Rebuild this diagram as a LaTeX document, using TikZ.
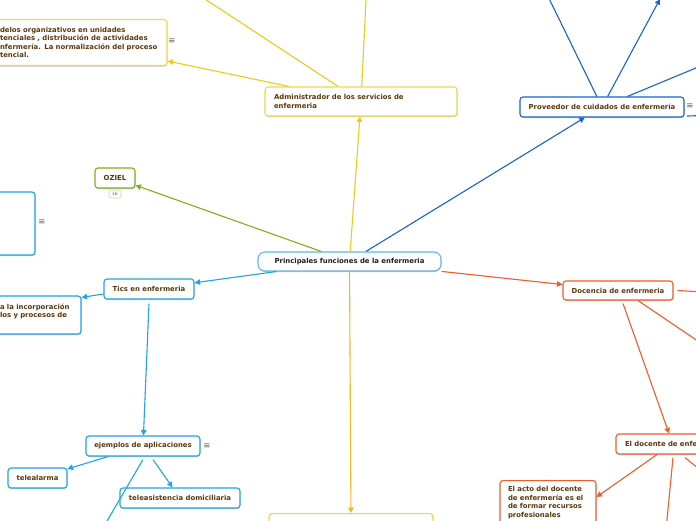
\documentclass[tikz,border=0pt]{standalone}
\usepackage{fontspec}
\setmainfont{DejaVu Sans}
\usetikzlibrary{arrows.meta,shadows}
\definecolor{cyel}{HTML}{EBCB1C}
\definecolor{cyelbox}{HTML}{F2D844}
\definecolor{camber}{HTML}{F6B626}
\definecolor{camberbox}{HTML}{FFCB4C}
\definecolor{cblue}{HTML}{1A62D0}
\definecolor{cltblue}{HTML}{1FA4E6}
\definecolor{ccentral}{HTML}{62B6EA}
\definecolor{cgreen}{HTML}{7DB11C}
\definecolor{corange}{HTML}{F45A2A}
\definecolor{tbrown}{HTML}{5A3810}
\definecolor{iconbrown}{HTML}{7A5A3A}
\newcommand\mapfont{\bfseries\fontsize{6.9}{8.5}\selectfont}
\tikzset{
  box/.style={draw, fill=white, rounded corners=3pt, line width=1.1pt,
    font=\mapfont, text=tbrown, inner sep=0pt,
    drop shadow={shadow xshift=0.4pt, shadow yshift=-1pt, fill=black, opacity=0.22}},
  conn/.style={line width=1.1pt},
  arr/.style={conn, -{Triangle[length=5.5pt,width=5.5pt]}},
  icon/.style={font=\fontsize{8.5}{8.5}\selectfont, text=iconbrown, inner sep=0pt}
}
\begin{document}
\begin{tikzpicture}[x=1pt,y=-1pt]
\useasboundingbox (0,0) rectangle (696,520);
\clip (0,0) rectangle (696,520);
\fill[white] (0,0) rectangle (696,520);

% nodes
\node[box, draw=ccentral, minimum width=183pt, minimum height=19pt, rounded corners=7pt, text=black!88] (central) at (349.5,261.5) {Principales funciones de la enfermeria};
\node[box, draw=cyelbox, text width=174pt, inner xsep=9pt, minimum height=29pt, align=left] (adm) at (361,101.5) {Administrador de los servicios de\\enfermeria};
\node[box, draw=cyelbox, text width=157pt, inner xsep=10pt, minimum height=46pt, align=left] (tl) at (78.5,42.5) {\mbox{delos organizativos en unidades}\\\mbox{tenciales , distribución de actividades}\\\mbox{nfermería. La normalización del proceso}\\\mbox{tencial.}};
\node[box, draw=cblue, minimum width=164pt, minimum height=20pt] (prov) at (602,107) {Proveedor de cuidados de enfermería};
\node[box, draw=cgreen, minimum width=40pt, minimum height=20pt] (oziel) at (115,178) {OZIEL};
\node[draw=cgreen!45, fill=white, rounded corners=1.5pt, line width=0.6pt, minimum width=12pt, minimum height=8pt, inner sep=0pt, font=\fontsize{4.5}{5}\selectfont, text=black!60] (badge) at (115,194) {16};
\node[box, draw=cltblue, minimum width=55pt, minimum height=63pt] (lb1) at (7.5,223.5) {};
\node[box, draw=cltblue, minimum width=90pt, minimum height=20pt] (tics) at (149,289) {Tics en enfermeria};
\node[box, draw=cltblue, text width=71pt, inner xsep=10pt, minimum height=38pt, align=left] (lb2) at (35.5,315) {\mbox{a la incorporación}\\\mbox{los y procesos de}\\\mbox{}};
\node[box, draw=cltblue, minimum width=114pt, minimum height=20pt] (ejem) at (143,446) {ejemplos de aplicaciones};
\node[box, draw=cltblue, minimum width=59pt, minimum height=20pt] (tele) at (37.5,478) {telealarma};
\node[box, draw=cltblue, minimum width=120pt, minimum height=20pt] (teledom) at (180,498) {teleasistencia domiciliaria};
\node[box, draw=corange, minimum width=110pt, minimum height=19pt] (doc) at (618,290.5) {Docencia de enfermeria};
\node[box, draw=corange, text width=86pt, inner xsep=9pt, minimum height=20pt, align=left] (eldoc) at (668,444) {El docente de enfe};
\node[box, draw=corange, anchor=north, text width=80pt, inner xsep=8pt, inner ysep=6pt, align=left] (acto) at (548,480) {El acto del docente\\de enfermería es el\\de formar recursos\\profesionales};
\node[box, draw=camberbox, anchor=north, minimum width=164pt, minimum height=22pt] (bottom) at (351,513) {};

% icons
\node[icon] (i1) at (172,41) {≡};
\node[icon] (i2) at (690,106) {≡};
\node[icon] (i3) at (42,222) {≡};
\node[icon] (i4) at (207,446) {≡};

% off-frame ends
\coordinate (a1) at (176,-20);
\coordinate (a2) at (367,-20);
\coordinate (p1) at (540,-20);
\coordinate (p2) at (660,-1);
\coordinate (p3) at (720,58);
\coordinate (p4s) at (687,116);
\coordinate (p4) at (720,115);
\coordinate (e1) at (103,528);
\coordinate (d1) at (720,293);
\coordinate (d2) at (720,356);
\coordinate (k1) at (666,530);
\coordinate (k2) at (720,486);

% connectors
\draw[arr, cyel] (central) -- (adm);
\draw[arr, cyel] (adm) -- (tl);
\draw[conn, cyel] (adm) -- (a1);
\draw[conn, cyel] (adm) -- (a2);
\draw[arr, cblue] (central) -- (prov);
\draw[conn, cblue] (prov) -- (p1);
\draw[arr, cblue] (prov) -- (p2);
\draw[conn, cblue] (prov) -- (p3);
\draw[conn, cblue] (p4s) -- (p4);
\draw[arr, cgreen] (central) -- (oziel);
\draw[arr, cltblue] (central) -- (tics);
\draw[arr, cltblue] ([yshift=-5pt]tics.west) -- ([yshift=-2pt]lb2.north east);
\draw[arr, cltblue] ([yshift=-4pt]tics.south) -- (ejem);
\draw[arr, cltblue] (ejem) -- (tele);
\draw[arr, cltblue] ([xshift=10pt,yshift=-3pt]ejem.south) -- (teledom);
\draw[conn, cltblue] ([yshift=-3pt]ejem.south) -- (e1);
\draw[arr, corange] (central) -- (doc);
\draw[conn, corange] ([xshift=4pt]doc.east) -- (d1);
\draw[conn, corange] ([xshift=20pt]doc.south) -- (d2);
\draw[arr, corange] ([xshift=5pt,yshift=-3pt]doc.south) -- ([xshift=1pt]eldoc.north);
\draw[arr, corange] ([xshift=-11pt]eldoc.south) -- ([yshift=-17pt]acto.north east);
\draw[conn, corange] ([xshift=5pt,yshift=-3pt]eldoc.south) -- (k1);
\draw[conn, corange] ([xshift=17pt,yshift=-3pt]eldoc.south) -- (k2);
\draw[arr, camber] (central) -- (bottom);
\end{tikzpicture}
\end{document}
